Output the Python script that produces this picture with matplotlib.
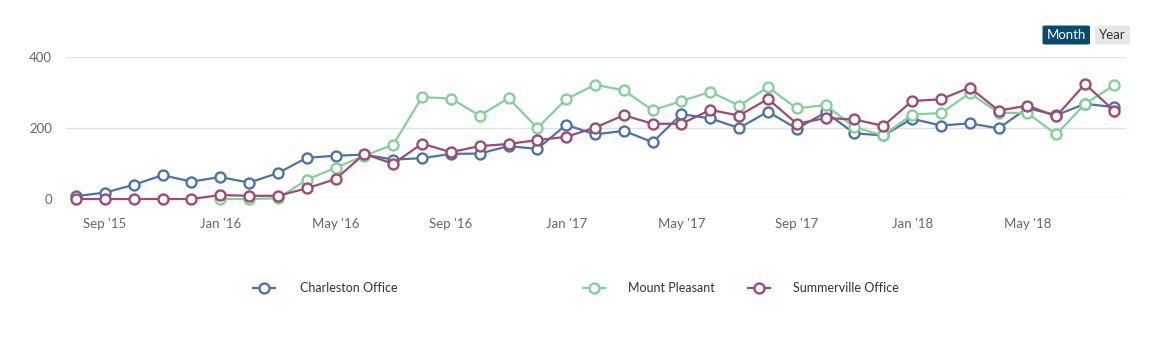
import matplotlib
matplotlib.use("Agg")
import matplotlib.pyplot as plt
import numpy as np
from matplotlib.lines import Line2D
from matplotlib.patches import FancyBboxPatch

plt.rcParams['font.family'] = ['Lato', 'DejaVu Sans']

# Monthly, Aug 2015 .. Aug 2018
months = ["Aug '15", "Sep '15", "Oct '15", "Nov '15", "Dec '15",
          "Jan '16", "Feb '16", "Mar '16", "Apr '16", "May '16", "Jun '16", "Jul '16", "Aug '16",
          "Sep '16", "Oct '16", "Nov '16", "Dec '16",
          "Jan '17", "Feb '17", "Mar '17", "Apr '17", "May '17", "Jun '17", "Jul '17", "Aug '17",
          "Sep '17", "Oct '17", "Nov '17", "Dec '17",
          "Jan '18", "Feb '18", "Mar '18", "Apr '18", "May '18", "Jun '18", "Jul '18", "Aug '18"]

charleston = [8, 18, 40, 67, 49, 62, 46, 73, 116, 122,
              125, 111, 115, 127, 128, 149, 141, 209, 182, 192,
              160, 239, 227, 200, 246, 198, 244, 185, 179, 226,
              207, 213, 199, 256, 236, 268, 259]

mount_pleasant = [np.nan, np.nan, np.nan, np.nan, np.nan, 0, 0, 2, 54, 88,
                  122, 153, 287, 283, 235, 284, 200, 281, 322, 306,
                  250, 276, 302, 263, 315, 255, 265, 202, 179, 238,
                  242, 298, 243, 242, 182, 268, 320]

summerville = [0, 0, 0, 0, 0, 11, 9, 9, 30, 56,
               127, 99, 156, 132, 149, 155, 166, 175, 201, 236,
               212, 212, 251, 235, 282, 212, 228, 224, 206, 276,
               281, 314, 249, 263, 233, 324, 249]

series_names = ["Charleston Office", "Mount Pleasant", "Summerville Office"]
colors = ["#4D72A8", "#85CF98", "#9E4A72"]
yticks = [0, 200, 400]
tick_idx = [1, 5, 9, 13, 17, 21, 25, 29, 33]

W, H = 1159, 353
fig = plt.figure(figsize=(W / 100, H / 100), dpi=100)
fig.patch.set_facecolor("white")

left, right, top, bottom = 66, 1126, 57, 199
ax = fig.add_axes([left / W, 1 - bottom / H, (right - left) / W, (bottom - top) / H])

x = np.arange(len(months))
for vals, c, name in zip([charleston, mount_pleasant, summerville], colors, series_names):
    ax.plot(x, vals, color=c, lw=1.6, marker="o", ms=7.2, mfc="white", mec=c, mew=1.7,
            clip_on=False, zorder=3, label=name)

ax.set_ylim(0, 400)
ax.set_xlim(-0.35, 36.42)
ax.set_yticks(yticks)
ax.set_yticklabels([str(v) for v in yticks], color="#666666", fontsize=9.5)
ax.set_xticks(tick_idx)
ax.set_xticklabels([months[i] for i in tick_idx], color="#666666", fontsize=9.5)
ax.tick_params(axis="both", length=0)
ax.tick_params(axis="x", pad=14)
ax.tick_params(axis="y", pad=10)
for s in ax.spines.values():
    s.set_visible(False)
ax.grid(axis="y", color="#e0e0e0", lw=1)
ax.set_axisbelow(True)

# Legend (manual placement)
leg_y = 1 - 288 / H
leg_pos = [(253, 300), (583, 628), (748, 793)]
for (lx, tx), c, name in zip(leg_pos, colors, series_names):
    fig.add_artist(Line2D([lx / W, (lx + 22) / W], [leg_y, leg_y], color=c, lw=1.6,
                          transform=fig.transFigure))
    fig.add_artist(Line2D([(lx + 11) / W], [leg_y], color=c, marker="o", ms=7.2,
                          mfc="white", mec=c, mew=1.7, transform=fig.transFigure))
    fig.text(tx / W, leg_y, name, fontsize=9, color="#333333", va="center", ha="left")

# Month / Year buttons
btn1 = FancyBboxPatch((1042.5 / W, 1 - 44.5 / H), 47.5 / W, 19 / H,
                      boxstyle="round,pad=0,rounding_size=0.003",
                      transform=fig.transFigure, fc="#0B4A6F", ec="none")
btn2 = FancyBboxPatch((1095 / W, 1 - 44.5 / H), 35 / W, 19 / H,
                      boxstyle="round,pad=0,rounding_size=0.003",
                      transform=fig.transFigure, fc="#E6E6E6", ec="none")
fig.add_artist(btn1)
fig.add_artist(btn2)
fig.text(1066.3 / W, 1 - 35 / H, "Month", color="white", fontsize=9.5, ha="center", va="center")
fig.text(1112.5 / W, 1 - 35 / H, "Year", color="#333333", fontsize=9.5, ha="center", va="center")

fig.savefig("out.png", dpi=100, facecolor="white")
